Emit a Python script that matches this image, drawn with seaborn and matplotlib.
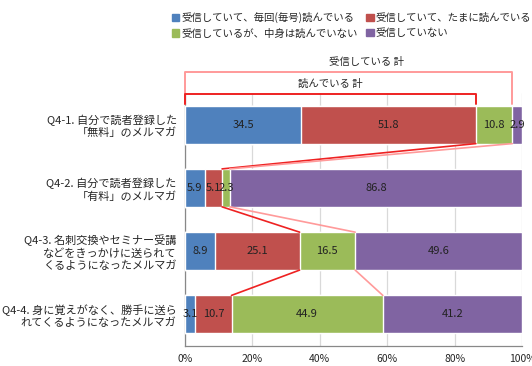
import matplotlib
matplotlib.use("Agg")
import matplotlib.pyplot as plt
import matplotlib.ticker as mticker
import numpy as np
import pandas as pd
import seaborn as sns

# -----------------------------
# Datos
# -----------------------------
categories = [
    "Q4-1. 自分で読者登録した\n「無料」のメルマガ",
    "Q4-2. 自分で読者登録した\n「有料」のメルマガ",
    "Q4-3. 名刺交換やセミナー受講\nなどをきっかけに送られて\nくるようになったメルマガ",
    "Q4-4. 身に覚えがなく、勝手に送ら\nれてくるようになったメルマガ",
]
series = [
    "受信していて、毎回(毎号)読んでいる",
    "受信していて、たまに読んでいる",
    "受信しているが、中身は読んでいない",
    "受信していない",
]
every_issue = [34.5, 5.9, 8.9, 3.1]
sometimes = [51.8, 5.1, 25.1, 10.7]
not_read = [10.8, 2.3, 16.5, 44.9]
not_received = [2.9, 86.8, 49.6, 41.2]
colors = ["#4F81BD", "#C0504D", "#9BBB59", "#8064A2"]
x_ticks = [0, 20, 40, 60, 80, 100]

values = np.array([every_issue, sometimes, not_read, not_received])
cum = values.cumsum(axis=0)
df = pd.DataFrame({"cat": categories})

sns.set_style("white")
plt.rcParams["font.family"] = ["Noto Sans CJK JP", "DejaVu Sans"]

fig = plt.figure(figsize=(5.32, 3.66), dpi=100)
ax = fig.add_axes([185 / 532, 20 / 366, 337 / 532, 253 / 366])

# barras apiladas: se dibujan del total acumulado hacia atrás
for k in range(3, -1, -1):
    sns.barplot(x=cum[k], y=df["cat"], orient="h", color=colors[k],
                width=0.6, saturation=1, ax=ax, zorder=3)

# etiquetas de valores
for k in range(4):
    for i in range(len(categories)):
        ax.text(cum[k][i] - values[k][i] / 2, i, f"{values[k][i]:.1f}",
                ha="center", va="center", fontsize=8, color="#222222", zorder=5)

# líneas de conexión entre barras
read_tot = cum[1]
recv_tot = cum[2]
for i in range(len(categories) - 1):
    ax.plot([read_tot[i], read_tot[i + 1]], [i + 0.3, i + 0.7],
            color="#EE2222", lw=1.2, zorder=4)
    ax.plot([recv_tot[i], recv_tot[i + 1]], [i + 0.3, i + 0.7],
            color="#FF9A9A", lw=1.2, zorder=4)

# corchetes de totales
ax.plot([0, 0, recv_tot[0], recv_tot[0]], [-0.33, -0.83, -0.83, -0.33],
        color="#FF9A9A", lw=1.4, clip_on=False, zorder=4)
ax.plot([0, 0, read_tot[0], read_tot[0]], [-0.33, -0.49, -0.49, -0.33],
        color="#EE2222", lw=1.4, clip_on=False, zorder=4)
ax.text(54, -0.99, "受信している 計", ha="center", va="center", fontsize=7.5)
ax.text(43, -0.64, "読んでいる 計", ha="center", va="center", fontsize=7.5)

# ejes
ax.set_xlim(0, 100)
ax.set_ylim(3.5, -0.5)
ax.set_xticks(x_ticks)
ax.xaxis.set_major_formatter(mticker.FuncFormatter(lambda v, p: f"{v:.0f}%"))
ax.set_xlabel("")
ax.set_ylabel("")
ax.grid(axis="x", color="#D9D9D9", lw=0.9, zorder=0)
ax.set_yticks(range(len(categories)))
ax.set_yticklabels(categories, fontsize=8, linespacing=1.2)
ax.set_yticks(np.arange(-0.5, 4, 1), minor=True)
ax.tick_params(axis="y", which="major", length=0, pad=6)
ax.tick_params(axis="y", which="minor", length=4, color="#888888", direction="out")
ax.tick_params(axis="x", length=4, color="#888888", direction="out", labelsize=7.5, pad=2)
for s in ["top", "right"]:
    ax.spines[s].set_visible(False)
for s in ["left", "bottom"]:
    ax.spines[s].set_color("#888888")
    ax.spines[s].set_linewidth(0.9)

# leyenda (orden por filas, como en el original)
if ax.legend_:
    ax.legend_.remove()
handles = [plt.Rectangle((0, 0), 1, 1, color=c) for c in colors]
order = [0, 2, 1, 3]
fig.legend([handles[j] for j in order], [series[j] for j in order],
           loc="upper left", bbox_to_anchor=(168 / 532, 1 - 8 / 366),
           ncol=2, frameon=False, fontsize=7.5, handlelength=0.7, handleheight=0.7,
           handletextpad=0.2, columnspacing=0.8, labelspacing=0.5, borderaxespad=0)

fig.savefig("out.png", dpi=100)
plt.close(fig)
